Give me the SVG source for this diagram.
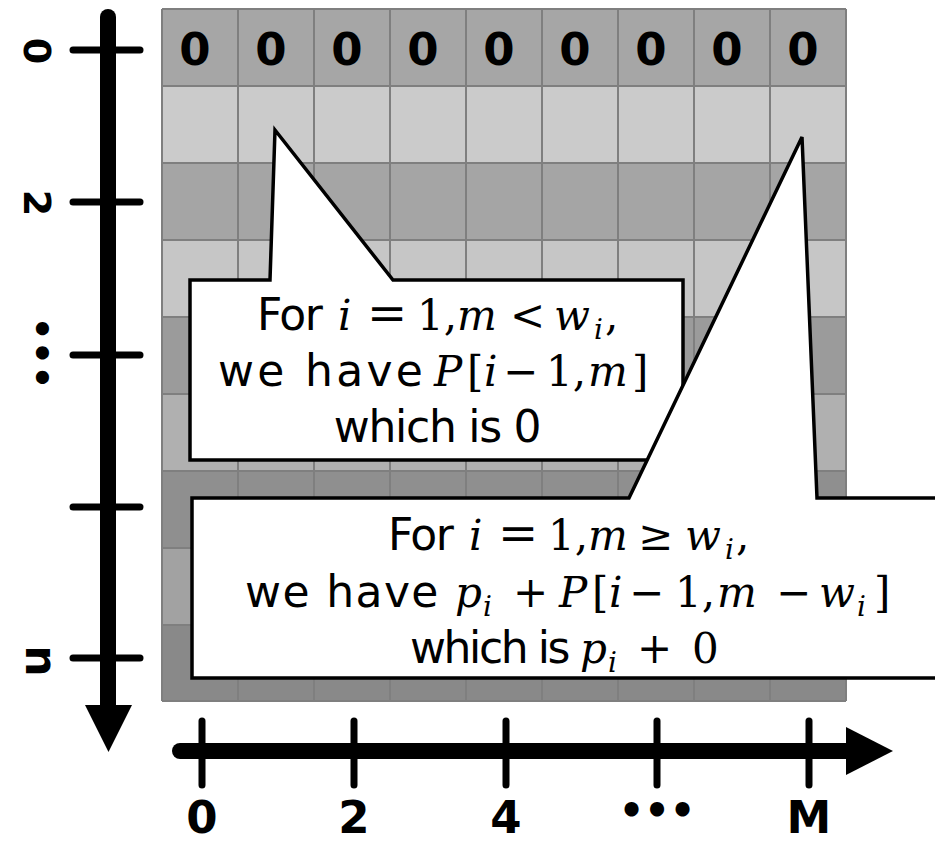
<svg xmlns="http://www.w3.org/2000/svg" width="935" height="844" viewBox="0 0 935 844">
<style>
  .gl{stroke:#7f7f7f;stroke-width:2;fill:none}
  .z{font-family:"DejaVu Sans",sans-serif;font-weight:bold;font-size:45px;fill:#000;text-anchor:middle}
  .lbl{font-family:"DejaVu Sans",sans-serif;font-weight:bold;font-size:38px;fill:#000;text-anchor:middle}
  .tick{stroke:#000;stroke-width:7;stroke-linecap:round}
  .axis{stroke:#000;stroke-width:16;stroke-linecap:round}
  .co{fill:#fff;stroke:#000;stroke-width:3.5;stroke-linejoin:miter}
  .s{font-family:"DejaVu Sans",sans-serif;font-size:44px;fill:#000}
  .m{font-family:"DejaVu Serif",serif;font-size:42px;fill:#000}
  .it{font-style:italic}
  .op{font-size:48px}
  .sub{font-style:italic;font-size:28px}
</style>
<g id="grid">
  <rect x="162" y="9" width="684" height="77" fill="#a6a6a6"/>
  <rect x="162" y="86" width="684" height="77" fill="#cbcbcb"/>
  <rect x="162" y="163" width="684" height="77" fill="#a5a5a5"/>
  <rect x="162" y="240" width="684" height="77" fill="#c6c6c6"/>
  <rect x="162" y="317" width="684" height="77" fill="#9b9b9b"/>
  <rect x="162" y="394" width="684" height="77" fill="#b0b0b0"/>
  <rect x="162" y="471" width="684" height="77" fill="#8f8f8f"/>
  <rect x="162" y="548" width="684" height="77" fill="#a2a2a2"/>
  <rect x="162" y="625" width="684" height="76" fill="#898989"/>
  <path class="gl" d="M162 9H846M162 86H846M162 163H846M162 240H846M162 317H846M162 394H846M162 471H846M162 548H846M162 625H846M162 701H846M162 9V701M238 9V701M314 9V701M390 9V701M466 9V701M542 9V701M618 9V701M694 9V701M770 9V701M846 9V701"/>
  <g id="top-row-values">
    <text class="z" x="195" y="65">0</text>
    <text class="z" x="271" y="65">0</text>
    <text class="z" x="347" y="65">0</text>
    <text class="z" x="423" y="65">0</text>
    <text class="z" x="499" y="65">0</text>
    <text class="z" x="575" y="65">0</text>
    <text class="z" x="651" y="65">0</text>
    <text class="z" x="727" y="65">0</text>
    <text class="z" x="803" y="65">0</text>
  </g>
</g>
<g id="connectors">
  <g id="y-axis">
    <line class="axis" x1="108" y1="17" x2="108" y2="710"/>
    <polygon points="85,705 132,705 108.5,752" fill="#000"/>
    <line class="tick" x1="73" y1="50" x2="140" y2="50"/>
    <line class="tick" x1="73" y1="202" x2="140" y2="202"/>
    <line class="tick" x1="73" y1="355" x2="140" y2="355"/>
    <line class="tick" x1="73" y1="507" x2="140" y2="507"/>
    <line class="tick" x1="73" y1="658" x2="140" y2="658"/>
    <text class="lbl" transform="translate(38,51) rotate(90)" dy="0.365em">0</text>
    <text class="lbl" transform="translate(38,203) rotate(90)" dy="0.365em">2</text>
    <text class="lbl" transform="translate(39,353) rotate(90)" dy="0.3em">•••</text>
    <text class="lbl" style="font-size:44px" transform="translate(38,661) rotate(90)" dy="0.27em">n</text>
  </g>
  <g id="x-axis">
    <line class="axis" x1="180" y1="751" x2="850" y2="751"/>
    <polygon points="846,727 846,775 893,751" fill="#000"/>
    <line class="tick" x1="202" y1="721" x2="202" y2="785"/>
    <line class="tick" x1="354" y1="721" x2="354" y2="785"/>
    <line class="tick" x1="506" y1="721" x2="506" y2="785"/>
    <line class="tick" x1="657" y1="721" x2="657" y2="785"/>
    <line class="tick" x1="809" y1="721" x2="809" y2="785"/>
    <text class="z" x="202" y="833">0</text>
    <text class="z" x="354" y="833">2</text>
    <text class="z" x="506" y="833">4</text>
    <text class="z" style="font-size:40px" x="657" y="824">•••</text>
    <text class="z" x="809" y="833">M</text>
  </g>
</g>
<g id="callout-1">
  <polygon class="co" points="190,280 270,280 275,130 393,280 683,280 683,460 190,460"/>
  <text class="s" x="257" y="330" letter-spacing="-1.4">For</text>
  <text class="m" y="330"><tspan class="it" x="338">i</tspan><tspan class="op" x="367">=</tspan><tspan x="417">1,</tspan><tspan class="it" x="457">m</tspan><tspan x="510">&lt;</tspan><tspan class="it" x="554">w</tspan><tspan class="sub" x="594" y="339">i</tspan><tspan x="605" y="330">,</tspan></text>

  <text class="s" x="218" y="386" letter-spacing="3.3">we have</text>
  <text class="m" y="386"><tspan class="it" x="434">P</tspan><tspan x="467">[</tspan><tspan class="it" x="484">i</tspan><tspan x="503">−</tspan><tspan x="546">1,</tspan><tspan class="it" x="588">m</tspan><tspan x="632">]</tspan></text>

  <text class="s" x="437" y="442" text-anchor="middle" letter-spacing="-1.3">which is 0</text>
</g>
<g id="callout-2">
  <polygon class="co" points="192,498 629,498 802,137 817,498 945,498 945,678 192,678"/>
  <text class="s" x="388" y="550" letter-spacing="-1.4">For</text>
  <text class="m" y="550"><tspan class="it" x="469">i</tspan><tspan class="op" x="498">=</tspan><tspan x="548">1,</tspan><tspan class="it" x="588">m</tspan><tspan x="638">≥</tspan><tspan class="it" x="685">w</tspan><tspan class="sub" x="725" y="559">i</tspan><tspan x="736" y="550">,</tspan></text>

  <text class="s" x="245" y="607" letter-spacing="1.4">we have</text>
  <text class="m" y="607"><tspan class="it" x="455">p</tspan><tspan class="sub" x="483" y="616">i</tspan><tspan x="513" y="607">+</tspan><tspan class="it" x="559">P</tspan><tspan x="592">[</tspan><tspan class="it" x="609">i</tspan><tspan x="629">−</tspan><tspan x="675">1,</tspan><tspan class="it" x="717">m</tspan><tspan x="776">−</tspan><tspan class="it" x="819">w</tspan><tspan class="sub" x="857" y="616">i</tspan><tspan x="874" y="607">]</tspan></text>

  <text class="s" x="410" y="663" letter-spacing="-2.4">which is</text>
  <text class="m" y="663"><tspan class="it" x="580">p</tspan><tspan class="sub" x="608" y="672">i</tspan><tspan x="637" y="663">+</tspan><tspan x="692">0</tspan></text>
</g>
</svg>
